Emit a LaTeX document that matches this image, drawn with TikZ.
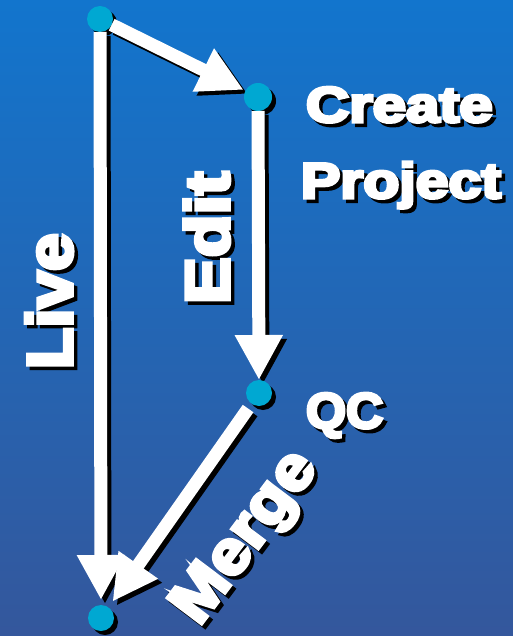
\documentclass[tikz,border=0pt]{standalone}
\usepackage{fontspec}
\usepackage{graphicx}
\newfontfamily\heavy{Liberation Sans Bold}[FakeBold=6]
\usetikzlibrary{arrows.meta}
\definecolor{bgtop}{RGB}{18,117,205}
\definecolor{bgbot}{RGB}{52,87,156}
\definecolor{dotcol}{RGB}{0,168,210}
\pgfdeclarelayer{back}
\pgfsetlayers{back,main}
\tikzset{
  lbl/.style={inner sep=0pt, outer sep=0pt, anchor=base west},
  dot/.style={circle, fill=dotcol, minimum size=26pt, inner sep=0pt, outer sep=0pt},
  flow/.style={line width=13pt, white, -{Triangle[length=45pt,width=45pt]}},
  flowshadow/.style={flow, black, transform canvas={shift={(4pt,-4pt)}}},
}
\newcommand\shlabel[4]{%
  \node[lbl,#2,text=black] (#1-shadow) at ([shift={(3.5,3.5)}]#3) {#4};
  \node[lbl,#2,text=white] (#1) at (#3) {#4};}
\begin{document}
\begin{tikzpicture}[x=1pt,y=-1pt]
\useasboundingbox (0,0) rectangle (513,636);
\begin{pgfonlayer}{back}
\shade[top color=bgtop,bottom color=bgbot] (0,0) rectangle (513,636);
\end{pgfonlayer}
% dots
\node[dot] (A) at (100,19) {};
\node[dot, minimum size=28pt] (B) at (258,97) {};
\node[dot] (C) at (259,393) {};
\node[dot] (D) at (101,618) {};
% shadows
\begin{pgfonlayer}{back}
\draw[flowshadow, shorten >=2pt] (A) -- (B);
\draw[flowshadow] (B) -- (C);
\draw[flowshadow, shorten >=7pt, shorten <=6pt] (C) -- (D);
\draw[flowshadow, shorten >=5pt] (A) -- (D);
\fill[black] ([shift={(4,4)}]A.center) circle[radius=13pt];
\fill[black] ([shift={(4,4)}]B.center) circle[radius=14pt];
\fill[black] ([shift={(4,4)}]C.center) circle[radius=13pt];
\fill[black] ([shift={(4,4)}]D.center) circle[radius=13pt];
\end{pgfonlayer}
% arrows
\draw[flow, shorten >=2pt] (A) -- (B);
\draw[flow] (B) -- (C);
\draw[flow, shorten >=7pt, shorten <=6pt] (C) -- (D);
\draw[flow, shorten >=5pt] (A) -- (D);
% labels
\shlabel{create}{font=\heavy\fontsize{50}{50}\selectfont}{306,122}{\scalebox{1.2}[1]{Create}}
\shlabel{project}{font=\heavy\fontsize{50}{50}\selectfont}{301,198}{\scalebox{1.18}[1]{Project}}
\shlabel{qc}{font=\heavy\fontsize{50}{50}\selectfont}{306,428}{\scalebox{1.03}[1]{QC}}
\shlabel{edit}{rotate=90,font=\heavy\fontsize{62}{62}\selectfont}{229,304}{\scalebox{1.13}[1]{Edit}}
\shlabel{live}{rotate=90,font=\heavy\fontsize{64}{64}\selectfont}{72,369}{\scalebox{1.06}[1]{Live}}
\shlabel{merge}{rotate=53,font=\heavy\fontsize{62}{62}\selectfont}{199,627}{\scalebox{1.09}[1]{Merge}}
\end{tikzpicture}
\end{document}
